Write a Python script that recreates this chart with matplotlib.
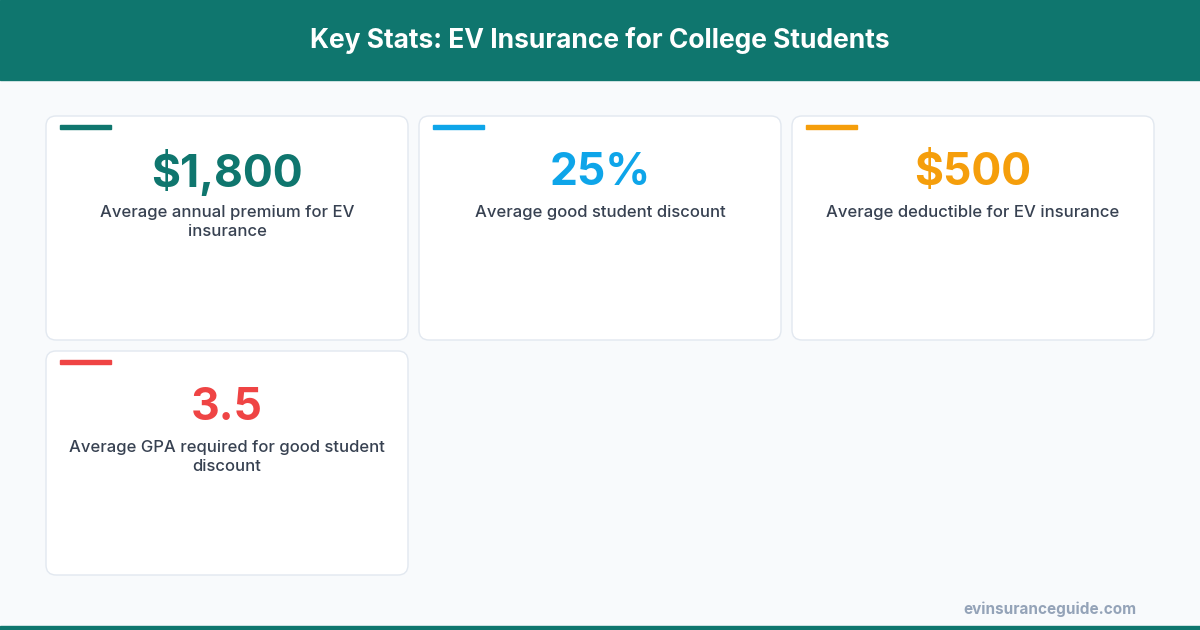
import matplotlib
matplotlib.use("Agg")
import matplotlib.pyplot as plt
from matplotlib.patches import FancyBboxPatch, Rectangle

title = "Key Stats: EV Insurance for College Students"
values = ["$1,800", "25%", "$500", "3.5"]
labels = ["Average annual premium for EV\ninsurance", "Average good student discount",
          "Average deductible for EV insurance", "Average GPA required for good student\ndiscount"]
colors = ["#0f766e", "#0ea5e9", "#f59e0b", "#ef4444"]
footer = "evinsuranceguide.com"

fig = plt.figure(figsize=(12, 6.3), dpi=100)
ax = fig.add_axes([0, 0, 1, 1])
ax.set_xlim(0, 1200); ax.set_ylim(630, 0); ax.axis("off")
fig.patch.set_facecolor("#f8fafc")
ax.add_patch(Rectangle((0, 0), 1200, 80, color="#0f766e"))
ax.add_patch(Rectangle((0, 626), 1200, 4, color="#0f766e"))
ax.text(600, 41, title, ha="center", va="center", color="white", fontsize=19, fontweight="bold", family="Inter")

w, h = 362, 224
for i, (v, l, c) in enumerate(zip(values, labels, colors)):
    col, row = i % 3, i // 3
    x0 = 46 + col * 373; y0 = 116 + row * 235
    ax.add_patch(FancyBboxPatch((x0, y0), w, h, boxstyle="round,pad=0,rounding_size=10",
                                facecolor="white", edgecolor="#e2e8f0", lw=1))
    ax.add_patch(Rectangle((x0 + 14, y0 + 9), 51, 4, color=c))
    ax.text(x0 + w / 2, y0 + 57, v, ha="center", va="center", color=c, fontsize=32, fontweight="bold", family="Inter")
    ax.text(x0 + w / 2, y0 + 89, l, ha="center", va="top", color="#374151", fontsize=12,
            family="Inter", fontweight="medium", linespacing=1.35)

ax.text(1136, 609, footer, ha="right", va="center", color="#94a3b8", fontsize=11, fontweight="bold", family="Inter")
fig.savefig("out.png", dpi=100, facecolor=fig.get_facecolor())
